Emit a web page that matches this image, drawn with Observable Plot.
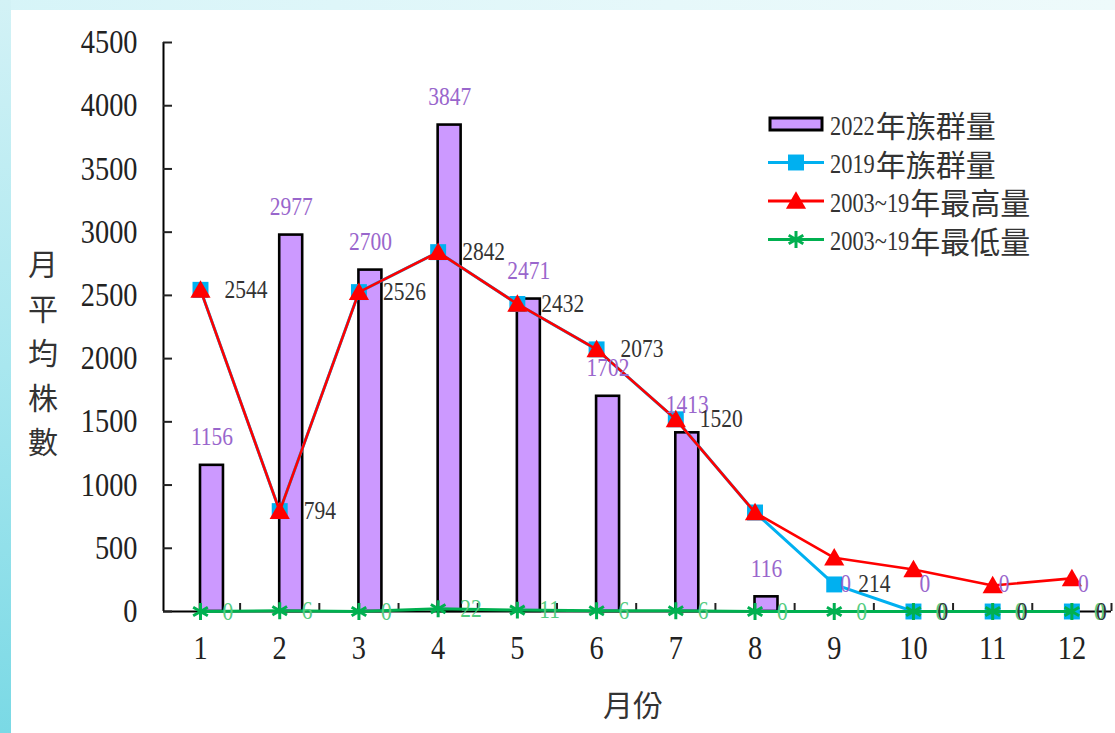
<!DOCTYPE html>
<html>
<head>
<meta charset="utf-8">
<script src="https://cdn.jsdelivr.net/npm/d3@7"></script>
<script src="https://cdn.jsdelivr.net/npm/@observablehq/plot@0.6"></script>
<style>
html, body { margin: 0; padding: 0; }
body { width: 1115px; height: 733px; overflow: hidden; position: relative;
  background: linear-gradient(to right, #d6f4f8 0%, #e6f8fa 60%, #eefafb 100%); }
#left { position: absolute; left: 0; top: 0; width: 11px; height: 733px;
  background: linear-gradient(to bottom, #d3f2f6 0%, #a9e7ef 50%, #7ad9e5 100%); }
#paper { position: absolute; left: 11px; top: 10px; right: 0; bottom: 0; background: #ffffff; }
#chart { position: absolute; left: 0; top: 0; }
</style>
</head>
<body>
<div id="left"></div>
<div id="paper"></div>
<div id="chart"></div>
<script>
// ---- data ----
const months = [1, 2, 3, 4, 5, 6, 7, 8, 9, 10, 11, 12];
const monthTickLabels = ["1", "2", "3", "4", "5", "6", "7", "8", "9", "10", "11", "12"];
const pop2022 = [1156, 2977, 2700, 3847, 2471, 1702, 1413, 116, 0, 0, 0, 0];
const pop2019 = [2544, 794, 2526, 2842, 2432, 2073, 1520, 783, 214, 0, 0, 0];
const label2019 = ["2544", "794", "2526", "2842", "2432", "2073", "1520", null, "214", "0", "0", "0"];
const max0319 = [2544, 794, 2526, 2842, 2432, 2073, 1520, 783, 425, 332, 206, 262];
const min0319 = [0, 6, 0, 22, 11, 6, 6, 0, 0, 0, 0, 0];
const yTicks = [0, 500, 1000, 1500, 2000, 2500, 3000, 3500, 4000, 4500];
const seriesNames = ["2022年族群量", "2019年族群量", "2003~19年最高量", "2003~19年最低量"];
const xTitle = "月份";
const yTitle = "月平均株數";

// ---- styles ----
const C2022 = "#cc99ff", C2019 = "#00b0f0", CMAX = "#ff0000", CMIN = "#00b050";
const barWidth = 0.29;
const serif = "'Liberation Serif', 'Times New Roman', serif";
const cjk = "'Noto Sans CJK TC', 'Noto Sans CJK SC', sans-serif";

const table = months.map((m, i) => ({
  month: m, v2022: pop2022[i], v2019: pop2019[i], l2019: label2019[i],
  vmax: max0319[i], vmin: min0319[i]
}));

const plot = Plot.plot({
  width: 1115, height: 733,
  marginLeft: 163, marginRight: 4, marginTop: 42, marginBottom: 122,
  x: {type: "linear", domain: [0.533, 12.5], label: null},
  y: {domain: [0, 4500], label: null},
  style: {fontFamily: serif, background: "transparent", color: "#222", overflow: "visible"},
  marks: [
    Plot.rect(table.filter(d => d.v2022 > 0), {
      x1: "month", x2: d => d.month + barWidth, y1: 0, y2: "v2022",
      fill: C2022, stroke: "#000", strokeWidth: 2.6
    }),
    Plot.ruleY([0], {stroke: "#000", strokeWidth: 2}),
    Plot.ruleX([0.533], {stroke: "#000", strokeWidth: 2}),
    Plot.axisY(yTicks, {tickSize: -9, tickPadding: 35, fontSize: 33, strokeWidth: 2, tickFormat: d => String(d)}),
    Plot.axisX(months.map(m => m + 0.5), {tickSize: -8, strokeWidth: 2, tickFormat: () => ""}),
    Plot.axisX(months, {tickSize: 0, tickPadding: 24, fontSize: 33, tickFormat: d => monthTickLabels[months.indexOf(d)]}),
    // 2019
    Plot.line(table, {x: "month", y: "v2019", stroke: C2019, strokeWidth: 3}),
    Plot.dot(table, {x: "month", y: "v2019", symbol: "square", r: 9, fill: C2019}),
    // max
    Plot.line(table, {x: "month", y: "vmax", stroke: CMAX, strokeWidth: 2.6}),
    Plot.dot(table, {x: "month", y: "vmax", symbol: "triangle", r: 7.5, fill: CMAX, dy: 2}),
    // min
    Plot.line(table, {x: "month", y: "vmin", stroke: CMIN, strokeWidth: 3}),
    Plot.dot(table, {x: "month", y: "vmin", symbol: "asterisk", r: 8, stroke: CMIN, strokeWidth: 3}),
    // labels
    Plot.text(table, {x: d => d.month + barWidth / 2, y: "v2022", text: d => String(d.v2022),
      dy: -28, fill: "#9966cc", fontSize: 25}),
    Plot.text(table, {x: "month", y: "vmin", text: d => String(d.vmin), dx: 22,
      textAnchor: "start", fill: "#55cc80", fontSize: 25}),
    Plot.text(table.filter(d => d.l2019 !== null), {x: "month", y: "v2019", text: "l2019", dx: 24,
      textAnchor: "start", fill: "#333", fontSize: 25})
  ]
});

document.getElementById("chart").appendChild(plot);

// horizontally condense the Latin text, as in the reference
plot.querySelectorAll("text").forEach(t => {
  const tr = t.getAttribute("transform") || "";
  if (/translate/.test(tr)) {
    t.setAttribute("transform", tr + " scale(0.86,1)");
  } else {
    const x = +t.getAttribute("x") || 0, y = +t.getAttribute("y") || 0;
    t.setAttribute("x", 0); t.setAttribute("y", 0);
    t.setAttribute("transform", `translate(${x},${y}) ${tr} scale(0.86,1)`);
  }
});

const svg = d3.select(plot);

// y title (stacked characters)
const yt = svg.append("g").attr("font-family", cjk).attr("font-size", 30).attr("fill", "#333")
  .attr("text-anchor", "middle");
[...yTitle].forEach((ch, i) => {
  yt.append("text").attr("transform", `translate(43,${262 + i * 44.5})`)
    .attr("dominant-baseline", "central").text(ch);
});

// x title
svg.append("text").attr("transform", "translate(633,703)").attr("font-family", cjk)
  .attr("font-size", 30).attr("fill", "#333").attr("text-anchor", "middle")
  .attr("dominant-baseline", "central").text(xTitle);

// legend
const lg = svg.append("g").attr("text-anchor", "start");
const legendStyles = [
  {kind: "bar"},
  {kind: "line", color: C2019, symbol: d3.symbolSquare, size: Math.PI * 81, fill: true},
  {kind: "line", color: CMAX, symbol: d3.symbolTriangle, size: Math.PI * 56, fill: true},
  {kind: "line", color: CMIN, symbol: d3.symbolAsterisk, size: Math.PI * 64, fill: false}
];
seriesNames.forEach((name, i) => {
  const cy = 124 + i * 38.5;
  const st = legendStyles[i];
  if (st.kind === "bar") {
    lg.append("rect").attr("x", 770).attr("y", cy - 6).attr("width", 52).attr("height", 12)
      .attr("fill", C2022).attr("stroke", "#000").attr("stroke-width", 3);
  } else {
    lg.append("line").attr("x1", 768).attr("x2", 824).attr("y1", cy).attr("y2", cy)
      .attr("stroke", st.color).attr("stroke-width", 3);
    const p = lg.append("path").attr("transform", `translate(796,${cy + (st.symbol === d3.symbolTriangle ? 2 : 0)})`)
      .attr("d", d3.symbol(st.symbol, st.size)());
    if (st.fill) p.attr("fill", st.color);
    else p.attr("fill", "none").attr("stroke", st.color).attr("stroke-width", 3);
  }
  const m = name.match(/^([0-9~]+)(.*)$/);
  const latin = lg.append("text").attr("font-family", serif).attr("font-size", 28).attr("fill", "#333")
    .attr("text-anchor", "start")
    .attr("dominant-baseline", "central").attr("transform", `translate(830,${cy + 1}) scale(0.8,1)`)
    .text(m[1]);
  const w = latin.node().getComputedTextLength() * 0.8;
  lg.append("text").attr("font-family", cjk).attr("font-size", 30).attr("fill", "#333")
    .attr("text-anchor", "start")
    .attr("dominant-baseline", "central").attr("transform", `translate(${830 + w + 1},${cy})`)
    .text(m[2]);
});
</script>
</body>
</html>
